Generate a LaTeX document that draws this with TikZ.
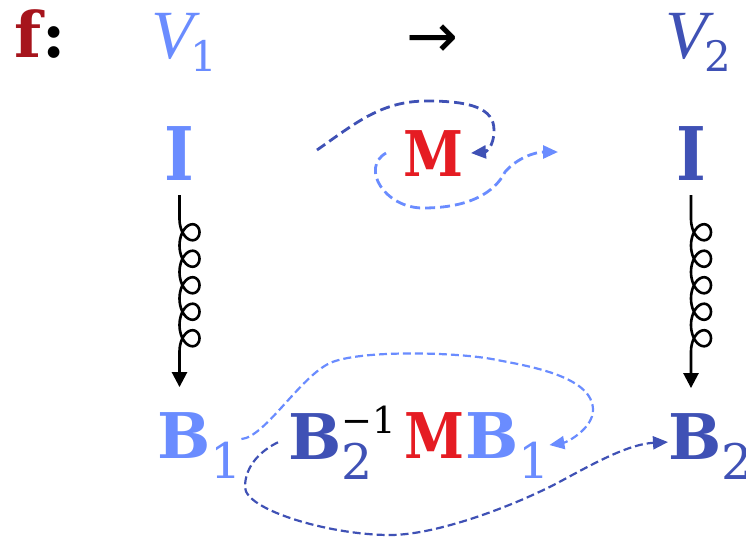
\documentclass[tikz,border=0pt]{standalone}
\usepackage{fontspec}
\setmainfont{DejaVu Serif}
\newfontfamily\vfont{Liberation Serif}
\newfontfamily\arrfont{DejaVu Sans}
\newfontfamily\narrowf{DejaVu Serif}[FakeStretch=0.86]
\usetikzlibrary{arrows.meta,calc}
\definecolor{lblue}{RGB}{106,140,255}
\definecolor{dblue}{RGB}{63,81,181}
\definecolor{mred}{RGB}{229,28,35}
\definecolor{fred}{RGB}{166,20,28}
\newcommand{\bigbf}{\fontsize{31.5}{36}\selectfont\bfseries}
\newcommand{\bigI}{\fontsize{37}{42}\narrowf\bfseries}
\newcommand{\bigM}{\fontsize{31.5}{36}\narrowf\bfseries}
\newcommand{\itV}{\fontsize{34.5}{38}\vfont\mdseries\itshape}
\newcommand{\subV}[1]{\kern-1.5pt\raisebox{-6.5pt}{\fontsize{21}{24}\rmfamily\mdseries\upshape #1}}
\newcommand{\subB}[1]{\raisebox{-10pt}{\fontsize{24.5}{28}\selectfont\mdseries #1}}
\newcommand{\supB}[1]{\raisebox{13pt}{\fontsize{18.5}{20}\selectfont\mdseries\color{black}#1}}
\tikzset{lbl/.style={inner sep=0pt,outer sep=0pt,anchor=base west,font=\bigbf},ctr/.style={lbl,anchor=base},coilarrow/.style={draw=black,line width=1.3pt,line join=round,-{Triangle[length=7.5pt,width=7.5pt]}},dkflow/.style={draw=dblue,line width=1.4pt,dash pattern=on 5pt off 2.5pt,-{Triangle[length=7.5pt,width=6.5pt]}},ltflow/.style={dkflow,draw=lblue},thinflow/.style={line width=1.1pt,dash pattern=on 4pt off 2pt}}

\begin{document}
\begin{tikzpicture}[x=0.5pt,y=-0.5pt]
\useasboundingbox (0,0) rectangle (746,538);
% Header: the map between the two spaces.
\node[lbl] (f) at (15,57) {\textcolor{fred}{f}:};
\node[lbl,text=lblue] (V1) at (151,58) {\itV V\subV{1}};
\node[ctr,font={\fontsize{31}{36}\arrfont}] (to) at (432,57) {→};
\node[lbl,text=dblue] (V2) at (665,58) {\itV V\subV{2}};
% Identity matrices and M.
\node[ctr,text=lblue,font=\bigI] (I1) at (179.5,180) {I};
\node[ctr,text=dblue,font=\bigI] (I2) at (691,180) {I};
\node[ctr,text=mred,font=\bigM] (M0) at (433,176) {M};
% Bases and the change of basis product.
\node[lbl,text=lblue] (B1) at (157,458) {B\subB{1}};
\node[lbl,text=dblue] (Bm) at (288,459) {B\rlap{\subB{2}}\supB{−1}};
\node[ctr,text=mred,font=\bigM] (Mm) at (434,458) {M};
\node[lbl,text=lblue] (B1m) at (465,458) {B\subB{1}};
\node[lbl,text=dblue] (B2) at (668,459) {B\subB{2}};
% Curly arrows I -> B.
\foreach \inode/\bnode in {I1/B1,I2/B2}{
  \begin{scope}[shift={(\inode.base)}]
    \draw[coilarrow] ([yshift=-7.5pt]\inode.base) -- (0,39)
      -- plot[domain=0:1800,samples=181] ({10-10*cos(\x)},{39+\x/360*26.5+14*sin(\x)})
      -- ($(\inode.base |- \bnode.north)+(0,-25)$);
  \end{scope}
}
% Dashed flows around M.
\coordinate (dkS) at (317,150);
\coordinate (ltE) at (558,152);
\draw[dkflow] (dkS) .. controls (357,122) and (382,101) .. (427,101)
  .. controls (470,101) and (494,108) .. (494,130)
  .. controls (494,148) and (485,152) .. ([xshift=4pt]M0.east);
\draw[ltflow] ([xshift=-8.5pt]M0.west) .. controls (360,168) and (385,208) .. (423,208)
  .. controls (470,208) and (495,192) .. (505,172)
  .. controls (517,158) and (535,152) .. (ltE);
% Dashed flows around the product.
\draw[ltflow,thinflow] ([yshift=3pt]B1.east) .. controls (265,437) and (300,377) .. (330,363)
  .. controls (360,349.5) and (460,352) .. (497,360)
  .. controls (535,367) and (593,378) .. (593,410)
  .. controls (593,428) and (568,442) .. (B1m.east);
\draw[dkflow,thinflow] ([xshift=-5pt]Bm.west) .. controls (262,450) and (245,465) .. (245,487)
  .. controls (245,510) and (330,535) .. (390,535)
  .. controls (440,535) and (523,502) .. (563,480)
  .. controls (598,461) and (630,444) .. ([yshift=2pt]B2.west);
\end{tikzpicture}
\end{document}
